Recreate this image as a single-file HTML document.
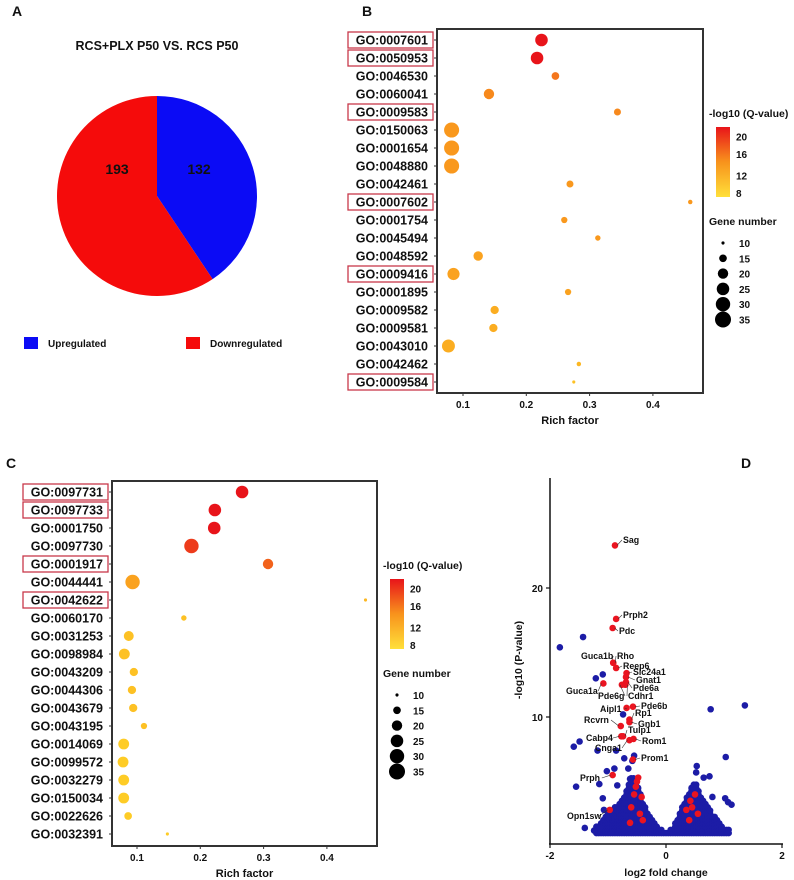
<!DOCTYPE html>
<html><head><meta charset="utf-8"><style>
body{margin:0;background:#fff;}
svg{display:block;font-family:"Liberation Sans",Arial,sans-serif;}
text{font-weight:bold;fill:#111;}
</style></head><body>
<svg id="fig" width="794" height="880" viewBox="0 0 794 880">
<defs>
<linearGradient id="qgrad" x1="0" y1="1" x2="0" y2="0">
<stop offset="0" stop-color="#ffe03a"/><stop offset="0.5" stop-color="#f8931c"/><stop offset="1" stop-color="#e8141a"/>
</linearGradient>
</defs>
<g id="pA"></g>
<g id="pB"></g>
<g id="pC"></g>
<g id="pD"></g>
</svg>
<script>
// ---------- Panel A data ----------
const pieLabels = ["Upregulated","Downregulated"];
const pieValues = [132,193];
// ---------- Panel B data ----------
const bTerms = ["GO:0007601","GO:0050953","GO:0046530","GO:0060041","GO:0009583","GO:0150063","GO:0001654","GO:0048880","GO:0042461","GO:0007602","GO:0001754","GO:0045494","GO:0048592","GO:0009416","GO:0001895","GO:0009582","GO:0009581","GO:0043010","GO:0042462","GO:0009584"];
const bRich = [0.224,0.217,0.246,0.141,0.344,0.082,0.082,0.082,0.269,0.459,0.260,0.313,0.124,0.085,0.266,0.150,0.148,0.077,0.283,0.275];
const bGenes = [25,25,15,20,14,32,32,32,14,11,13,12,18,24,13,16,16,26,11,10];
const bQ = [21,21,16,15,15,14,14,14,14,14,14,14,13,13,13,12,12,12,11,10];
const bBoxed = ["GO:0007601","GO:0050953","GO:0009583","GO:0007602","GO:0009416","GO:0009584"];
// ---------- Panel C data ----------
const cTerms = ["GO:0097731","GO:0097733","GO:0001750","GO:0097730","GO:0001917","GO:0044441","GO:0042622","GO:0060170","GO:0031253","GO:0098984","GO:0043209","GO:0044306","GO:0043679","GO:0043195","GO:0014069","GO:0099572","GO:0032279","GO:0150034","GO:0022626","GO:0032391"];
const cRich = [0.266,0.223,0.222,0.186,0.307,0.093,0.461,0.174,0.087,0.080,0.095,0.092,0.094,0.111,0.079,0.078,0.079,0.079,0.086,0.148];
const cGenes = [25,25,25,30,20,30,10,12,19,21,16,16,16,13,21,21,21,21,15,10];
const cQ = [21,21,21,19,17,13,11,10,10,10,10,10,10,10,9,9,9,9,9,9];
const cBoxed = ["GO:0097731","GO:0097733","GO:0001917","GO:0042622"];
const richTicks = [0.1,0.2,0.3,0.4];
const qTicks = [20,16,12,8];
const sizeTicks = [10,15,20,25,30,35];
// ---------- Panel D data ----------
const redGenes = ["Sag","Prph2","Pdc","Guca1b","Rho","Reep6","Slc24a1","Gnat1","Pde6a","Cdhr1","Pde6g","Guca1a","Aipl1","Pde6b","Rp1","Gnb1","Rcvrn","Cabp4","Tulp1","Cnga1","Rom1","Prom1","Prph","Opn1sw"];
const redFc = [-0.88,-0.86,-0.92,-0.91,-0.91,-0.86,-0.68,-0.69,-0.69,-0.70,-0.76,-1.08,-0.68,-0.57,-0.63,-0.63,-0.78,-0.77,-0.74,-0.63,-0.56,-0.57,-0.92,-0.97];
const redP = [23.3,17.6,16.9,14.2,14.2,13.8,13.4,13.1,12.7,12.5,12.5,12.6,10.7,10.8,9.8,9.6,9.3,8.5,8.5,8.2,8.3,6.7,5.5,2.8];
const redExtraFc = [-0.5,-0.55,-0.48,-0.6,-0.45,-0.4,-0.52,0.35,0.45,0.5,0.4,0.55,0.42,-0.62,-0.42];
const redExtraP = [5.0,4.0,5.3,3.0,2.5,2.0,4.6,2.8,3.0,4.0,2.0,2.5,3.5,1.8,3.8];
const blueFc = [-1.43,-1.83,-1.09,-1.21,-0.74,-1.49,-1.59,-1.18,-0.86,-0.55,-0.72,-1.02,-0.89,-1.55,-1.15,-0.84,-1.09,-1.40,-1.24,-1.14,-1.00,-1.07,0.77,1.36,1.03,0.53,0.75,0.80,1.02,1.13,1.07,0.52,0.65,-0.58,-0.65,-0.62];
const blueP = [16.2,15.4,13.3,13.0,10.2,8.1,7.7,7.4,7.4,7.0,6.8,5.8,6.0,4.6,4.8,4.7,3.7,1.4,1.2,1.4,2.2,2.8,10.6,10.9,6.9,6.2,5.4,3.8,3.7,3.2,3.4,5.7,5.3,6.6,6.0,5.2];
const blobFc = [-1.2,-1.1,-1.0,-0.9,-0.8,-0.7,-0.6,-0.5,-0.4,-0.3,-0.2,-0.1,0,0.1,0.2,0.3,0.4,0.5,0.6,0.7,0.8,0.9,1.0,1.1];
const blobTop = [1.5,2.0,2.5,3.0,3.3,4.0,5.5,5.0,3.5,2.5,1.8,1.3,1.1,1.3,2.2,3.2,4.2,5.0,4.0,3.2,2.5,2.0,1.5,1.2];
const fcTicks = [-2,0,2];
const pTicks = [10,20];
// label text anchor positions (layout, page px)
const labelPos = [[623,543],[623,618],[619,634],[581,659],[617,659],[623,669],[633,675],[636,683],[633,691],[628,699],[598,699],[566,694],[600,712],[641,709],[635,716],[638,727],[584,723],[586,741],[628,733],[595,751],[642,744],[641,761],[580,781],[567,819]];

const NS="http://www.w3.org/2000/svg";
function mk(parent,tag,attrs,txt){const e=document.createElementNS(NS,tag);for(const k in attrs)e.setAttribute(k,attrs[k]);if(txt!==undefined)e.textContent=txt;parent.appendChild(e);return e;}
const fig=document.getElementById('fig');
[["A",12,16],["B",362,16],["C",6,468],["D",741,468]].forEach(([t,x,y])=>{
 const e=mk(fig,'text',{x:x,y:y,'font-size':14});
 
 
 e.textContent=t;
});

// ---------- Panel A ----------
(function(){
 const g=document.getElementById('pA');
 const cx=157,cy=196,r=100,total=pieValues[0]+pieValues[1];
 const cols=["#0b0bf5","#f50b0b"];
 const t=mk(g,'text',{x:157,y:50,'font-size':12.5,'text-anchor':'middle'},"RCS+PLX P50 VS. RCS P50");
 
 let a0=0;
 pieValues.forEach((v,i)=>{
  const a1=a0+v/total*2*Math.PI;
  const x0=cx+r*Math.sin(a0),y0=cy-r*Math.cos(a0),x1=cx+r*Math.sin(a1),y1=cy-r*Math.cos(a1);
  const p=mk(g,'path',{d:`M${cx},${cy}L${x0},${y0}A${r},${r} 0 ${(a1-a0)>Math.PI?1:0} 1 ${x1},${y1}Z`,fill:cols[i]});
  
  
  a0=a1;
 });
 [[199,174],[117,174]].forEach((pos,i)=>{
  const lt=mk(g,'text',{x:pos[0],y:pos[1],'font-size':14,'text-anchor':'middle'},String(pieValues[i]));
  
  
 });
 const lx=[24,186];
 pieLabels.forEach((l,i)=>{
  const rr=mk(g,'rect',{x:lx[i],y:337,width:14,height:12,fill:cols[i]});
  
  
  const tt=mk(g,'text',{x:lx[i]+24,y:347,'font-size':10},l);
  
  
 });
})();

function qColor(q){
 const t=Math.max(0,Math.min(1,(q-8)/13));
 const a=[255,214,40],b=[248,147,28],c=[232,20,26];
 let s,e,u; if(t<0.5){s=a;e=b;u=t/0.5;}else{s=b;e=c;u=(t-0.5)/0.5;}
 return `rgb(${s.map((v,i)=>Math.round(v+(e[i]-v)*u)).join(',')})`;
}
function sizeR(n){return 8*Math.sqrt(Math.max(0.03,(n-9)/26));}

function bubble(gid,terms,rich,genes,qs,boxed,L){
 const g=document.getElementById(gid);
 const xs=v=>L.x01+(v-0.1)*633;
 const ys=i=>L.y0+i*18;
 const fr=mk(g,'rect',{x:L.bx0,y:L.by0,width:L.bx1-L.bx0,height:L.by1-L.by0,fill:'none',stroke:'#333','stroke-width':2});
 
 terms.forEach((t,i)=>{
  const y=ys(i);
  const tx=mk(g,'text',{x:L.lx,y:y+4.5,'font-size':12.5,'text-anchor':'end'},t);
  
  mk(g,'line',{x1:L.bx0-3,x2:L.bx0,y1:y,y2:y,stroke:'#333'});
  if(boxed.includes(t)){
   const bx=mk(g,'rect',{x:L.lx-80,y:y-8,width:85,height:16,fill:'none',stroke:'#c8384a','stroke-width':1.3});
   
  }
  const c=mk(g,'circle',{cx:xs(rich[i]),cy:y,r:sizeR(genes[i]),fill:qColor(qs[i])});
  
 });
 richTicks.forEach(v=>{
  mk(g,'line',{x1:xs(v),x2:xs(v),y1:L.by1,y2:L.by1+3,stroke:'#333'});
  const tt=mk(g,'text',{x:xs(v),y:L.by1+15,'font-size':10,'text-anchor':'middle'},String(v));
  
 });
 const xt=mk(g,'text',{x:(L.bx0+L.bx1)/2,y:L.by1+31,'font-size':11,'text-anchor':'middle'},"Rich factor");
 
 const lt=mk(g,'text',{x:L.legx,y:L.legy,'font-size':10.5},"-log10 (Q-value)");
 
 const cb=mk(g,'rect',{x:L.legx+7,y:L.legy+10,width:14,height:70,fill:'url(#qgrad)'});
 
 qTicks.forEach(q=>{
  const y=L.legy+10+ (21-q)/13*70;
  const tt=mk(g,'text',{x:L.legx+27,y:y+4+(q==20?4:0)-(q==8?4:0),'font-size':10},String(q));
  
 });
 const st=mk(g,'text',{x:L.legx,y:L.legy+108,'font-size':10.5},"Gene number");
 
 sizeTicks.forEach((s,i)=>{
  const y=L.legy+126+i*15.3;
  const c=mk(g,'circle',{cx:L.legx+14,cy:y,r:sizeR(s),fill:'#000'});
  
  const tt=mk(g,'text',{x:L.legx+30,y:y+4,'font-size':10},String(s));
  
 });
}
bubble('pB',bTerms,bRich,bGenes,bQ,bBoxed,{x01:463,y0:40,bx0:437,bx1:703,by0:29,by1:393,lx:428,legx:709,legy:117});
bubble('pC',cTerms,cRich,cGenes,cQ,cBoxed,{x01:137,y0:492,bx0:112,bx1:377,by0:481,by1:846,lx:103,legx:383,legy:569});

// ---------- Panel D ----------
(function(){
 const g=document.getElementById('pD');
 const xs=v=>666+v*58;
 const ys=v=>846-v*12.9;
 const blue="#1c1ca6",red="#ea1420";
 const bl=mk(g,'g',{});
 function topAt(f){for(let i=0;i<blobFc.length-1;i++){if(f>=blobFc[i]&&f<=blobFc[i+1]){const u=(f-blobFc[i])/(blobFc[i+1]-blobFc[i]);return blobTop[i]+(blobTop[i+1]-blobTop[i])*u;}}return 0;}
 for(let f=blobFc[0];f<=blobFc[blobFc.length-1];f+=0.04){
  const tp=topAt(f);
  for(let p=1.0;p<=tp;p+=0.25){mk(bl,'circle',{cx:xs(f),cy:ys(p),r:3.3,fill:blue});}
 }
 blueFc.forEach((f,i)=>{const c=mk(g,'circle',{cx:xs(f),cy:ys(blueP[i]),r:3.3,fill:blue});
  });
 redExtraFc.forEach((f,i)=>{const c=mk(g,'circle',{cx:xs(f),cy:ys(redExtraP[i]),r:3.3,fill:red});
  });
 redGenes.forEach((n,i)=>{
  const x=xs(redFc[i]),y=ys(redP[i]);
  const c=mk(g,'circle',{cx:x,cy:y,r:3.3,fill:red});
  
  const tx=labelPos[i][0],ty=labelPos[i][1];
  const w=n.length*5.2;
  const right=tx>x;
  mk(g,'line',{x1:x+(right?2:-2),y1:y,x2:right?tx-1:tx+w+1,y2:ty-3,stroke:'#333','stroke-width':0.6});
  const t=mk(g,'text',{x:tx,y:ty,'font-size':8.8},n);
  
 });
 mk(g,'line',{x1:550,x2:550,y1:478,y2:844,stroke:'#111','stroke-width':1.5});
 mk(g,'line',{x1:549,x2:783,y1:844,y2:844,stroke:'#111','stroke-width':1.5});
 fcTicks.forEach(v=>{
  mk(g,'line',{x1:xs(v),x2:xs(v),y1:844,y2:848,stroke:'#111','stroke-width':1.2});
  const t=mk(g,'text',{x:xs(v),y:859,'font-size':10,'text-anchor':'middle'},String(v));
  
 });
 pTicks.forEach(v=>{
  mk(g,'line',{x1:546,x2:550,y1:ys(v),y2:ys(v),stroke:'#111','stroke-width':1.2});
  const t=mk(g,'text',{x:543,y:ys(v)+4,'font-size':10,'text-anchor':'end'},String(v));
  
 });
 const xt=mk(g,'text',{x:666,y:876,'font-size':10.5,'text-anchor':'middle'},"log2 fold change");
 
 const yt=mk(g,'text',{x:0,y:0,'font-size':10.5,'text-anchor':'middle',transform:'translate(522,660) rotate(-90)'},"-log10 (P-value)");
 
})();
</script>
</body></html>
